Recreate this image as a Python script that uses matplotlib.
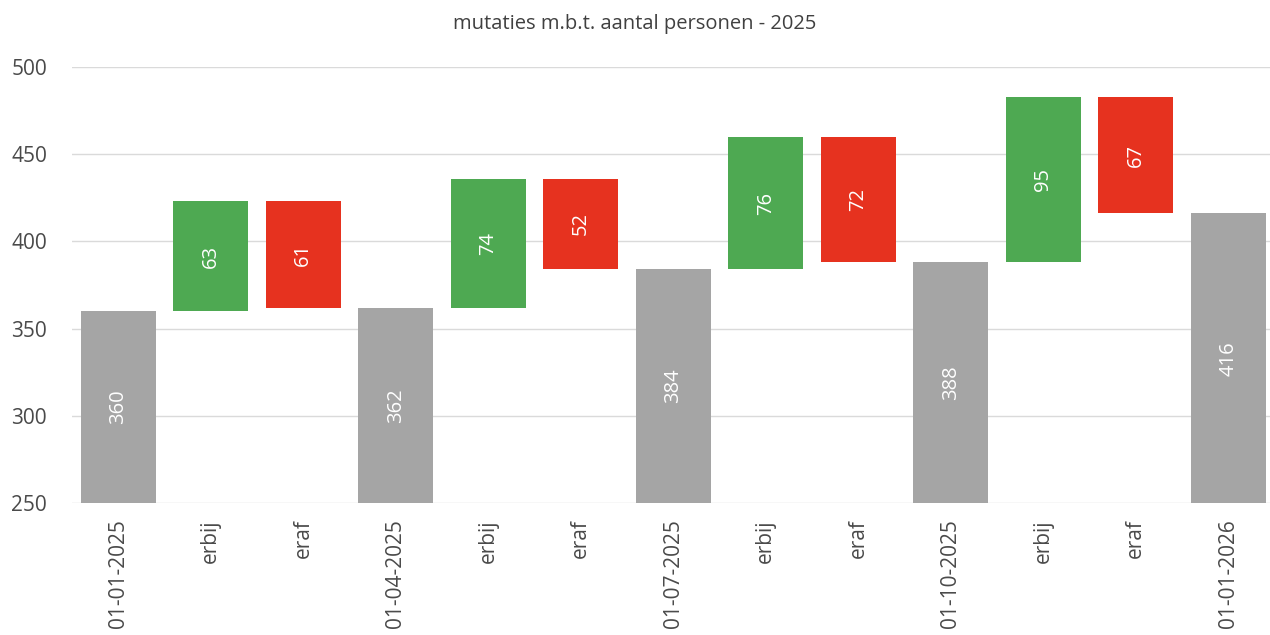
import matplotlib.pyplot as plt
import numpy as np

plt.rcParams['font.family'] = ['Open Sans', 'DejaVu Sans']

categories = ['01-01-2025', 'erbij', 'eraf', '01-04-2025', 'erbij', 'eraf',
              '01-07-2025', 'erbij', 'eraf', '01-10-2025', 'erbij', 'eraf',
              '01-01-2026']
values = [360, 63, 61, 362, 74, 52, 384, 76, 72, 388, 95, 67, 416]
kinds = ['totaal', 'erbij', 'eraf'] * 4 + ['totaal']

colors = {'totaal': '#A5A5A5', 'erbij': '#4EA952', 'eraf': '#E6321F'}
base_line = 250

# waterfall bottoms / heights
bottoms = []
heights = []
level = 0
for v, k in zip(values, kinds):
    if k == 'totaal':
        bottoms.append(base_line)
        heights.append(v - base_line)
        level = v
    elif k == 'erbij':
        bottoms.append(level)
        heights.append(v)
        level = level + v
    else:
        level = level - v
        bottoms.append(level)
        heights.append(v)

fig = plt.figure(figsize=(12.7, 6.35), dpi=100)
ax = fig.add_axes([0.0567, 0.208, 0.9433, 0.6865])

x = np.arange(len(categories))
ax.bar(x, heights, bottom=bottoms, width=0.81,
       color=[colors[k] for k in kinds], zorder=3)

for i, v in enumerate(values):
    ax.text(x[i], bottoms[i] + heights[i] / 2, str(v), rotation=90,
            ha='center', va='center', color='white', fontsize=14.5, zorder=4)

ax.set_ylim(250, 500)
ax.set_xlim(-0.5, 12.45)
ax.set_yticks(np.arange(250, 501, 50))
ax.set_xticks(x)
ax.set_xticklabels(categories, rotation=90)
ax.tick_params(axis='both', length=0, labelsize=15, colors='#4A4A4A')
ax.tick_params(axis='x', pad=12)
ax.tick_params(axis='y', pad=18)
ax.grid(axis='y', color='#DADADA', linewidth=1, zorder=0)
for s in ax.spines.values():
    s.set_visible(False)

fig.text(0.5, 0.962, 'mutaties m.b.t. aantal personen - 2025',
         ha='center', va='center', fontsize=14.5, color='#404040')

fig.savefig('out.png', dpi=100)
